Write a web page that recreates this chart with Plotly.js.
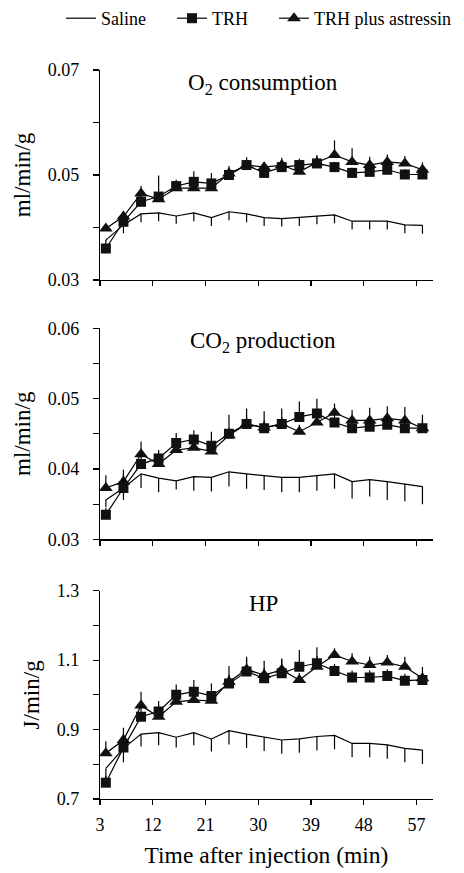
<!DOCTYPE html>
<html>
<head>
<meta charset="utf-8">
<script src="https://cdn.plot.ly/plotly-3.0.1.min.js"></script>
<style>html,body{margin:0;padding:0;background:#fff;}#chart{width:464px;height:873px;}</style>
</head>
<body>
<div id="chart"></div>
<script>
const time = [4,7,10,13,16,19,22,25,28,31,34,37,40,43,46,49,52,55,58];
const xTicks = [3,12,21,30,39,48,57];
const seriesNames = ['Saline','TRH','TRH plus astressin'];
const panelTitles = ['O<sub>2</sub> consumption','CO<sub>2</sub> production','HP'];
const yTitles = ['ml/min/g','ml/min/g','J/min/g'];

// O2 consumption
const o2Saline = [0.0376,0.0405,0.0426,0.0428,0.0422,0.0428,0.0419,0.0430,0.0426,0.0419,0.0417,0.0419,0.0422,0.0424,0.0412,0.0412,0.0412,0.0405,0.0404];
const o2SalineErr = [0.0012,0.0016,0.0016,0.0016,0.0015,0.0016,0.0016,0.0016,0.0016,0.0016,0.0015,0.0016,0.0016,0.0016,0.0016,0.0016,0.0016,0.0016,0.0016];
const o2Trh = [0.0360,0.0411,0.0449,0.0459,0.0479,0.0487,0.0484,0.0500,0.0519,0.0504,0.0515,0.0519,0.0522,0.0515,0.0504,0.0506,0.0510,0.0501,0.0501];
const o2TrhErr = [0.0008,0.0010,0.0012,0.0040,0.0012,0.0020,0.0020,0.0010,0.0012,0.0010,0.0010,0.0012,0.0012,0.0010,0.0010,0.0010,0.0010,0.0010,0.0010];
const o2Ast = [0.0398,0.0421,0.0465,0.0454,0.0475,0.0475,0.0475,0.0503,0.0519,0.0515,0.0519,0.0506,0.0524,0.0538,0.0525,0.0519,0.0525,0.0522,0.0510];
const o2AstErr = [0.0008,0.0010,0.0014,0.0010,0.0010,0.0010,0.0010,0.0014,0.0015,0.0010,0.0014,0.0010,0.0014,0.0028,0.0026,0.0016,0.0014,0.0014,0.0014];

// CO2 production
const co2Saline = [0.0356,0.0373,0.0393,0.0387,0.0383,0.0389,0.0388,0.0396,0.0393,0.0391,0.0388,0.0388,0.0390,0.0393,0.0382,0.0385,0.0382,0.0379,0.0375];
const co2SalineErr = [0.0010,0.0017,0.0020,0.0020,0.0012,0.0020,0.0020,0.0021,0.0021,0.0021,0.0021,0.0021,0.0021,0.0021,0.0024,0.0024,0.0026,0.0025,0.0025];
const co2Trh = [0.0335,0.0373,0.0407,0.0415,0.0437,0.0442,0.0433,0.0450,0.0464,0.0458,0.0464,0.0474,0.0479,0.0466,0.0458,0.0460,0.0463,0.0458,0.0458];
const co2TrhErr = [0.0010,0.0026,0.0015,0.0012,0.0014,0.0013,0.0020,0.0027,0.0022,0.0024,0.0022,0.0022,0.0021,0.0012,0.0012,0.0012,0.0012,0.0012,0.0019];
const co2Ast = [0.0373,0.0382,0.0421,0.0407,0.0427,0.0430,0.0425,0.0448,0.0464,0.0459,0.0464,0.0453,0.0466,0.0480,0.0469,0.0469,0.0472,0.0469,0.0458];
const co2AstErr = [0.0018,0.0012,0.0018,0.0014,0.0010,0.0010,0.0010,0.0010,0.0012,0.0010,0.0010,0.0010,0.0010,0.0013,0.0015,0.0018,0.0017,0.0019,0.0012];

// Heat production
const hpSaline = [0.788,0.846,0.887,0.891,0.878,0.891,0.873,0.897,0.887,0.878,0.870,0.873,0.880,0.883,0.860,0.860,0.856,0.846,0.841];
const hpSalineErr = [0.030,0.040,0.036,0.036,0.030,0.036,0.036,0.040,0.040,0.040,0.040,0.040,0.040,0.040,0.040,0.040,0.040,0.040,0.040];
const hpTrh = [0.747,0.848,0.937,0.952,1.000,1.009,0.997,1.033,1.067,1.048,1.062,1.081,1.091,1.069,1.050,1.050,1.054,1.041,1.043];
const hpTrhErr = [0.020,0.040,0.030,0.030,0.030,0.034,0.036,0.050,0.043,0.050,0.043,0.048,0.046,0.020,0.020,0.020,0.020,0.020,0.020];
const hpAst = [0.832,0.870,0.969,0.937,0.980,0.985,0.983,1.038,1.073,1.057,1.072,1.043,1.081,1.115,1.096,1.086,1.093,1.081,1.048];
const hpAstErr = [0.034,0.035,0.040,0.020,0.020,0.020,0.020,0.020,0.030,0.020,0.030,0.020,0.030,0.019,0.024,0.024,0.022,0.029,0.032];

const panels = [
  {s:o2Saline, se:o2SalineErr, t:o2Trh, te:o2TrhErr, a:o2Ast, ae:o2AstErr, range:[0.03,0.07], dtick:0.02, minor:0.01, fmt:'.2f', dom:[0.7119,1.0]},
  {s:co2Saline, se:co2SalineErr, t:co2Trh, te:co2TrhErr, a:co2Ast, ae:co2AstErr, range:[0.03,0.06], dtick:0.01, minor:0.005, fmt:'.2f', dom:[0.3562,0.6457]},
  {s:hpSaline, se:hpSalineErr, t:hpTrh, te:hpTrhErr, a:hpAst, ae:hpAstErr, range:[0.7,1.3], dtick:0.2, minor:0.1, fmt:'.1f', dom:[0,0.2857]}
];

const FONT = "'Liberation Serif', 'Times New Roman', serif";
const legendBase = {orientation:'h', xref:'container', yref:'container', y:1, xanchor:'left', yanchor:'top',
  font:{family:FONT, size:18, color:'#000'}, itemwidth:30, bgcolor:'rgba(0,0,0,0)', borderwidth:0};
const data = [];
const layout = {
  width:464, height:873,
  margin:{l:100, r:31, t:70, b:74, autoexpand:false},
  paper_bgcolor:'#fff', plot_bgcolor:'#fff',
  font:{family:FONT, color:'#000', size:18},
  showlegend:true,
  legend:Object.assign({}, legendBase, {x:61/464}),
  legend2:Object.assign({}, legendBase, {x:172/464}),
  legend3:Object.assign({}, legendBase, {x:274/464}),
  annotations:[]
};

panels.forEach((p,i)=>{
  const n = i+1;
  const xa = 'x'+(n===1?'':n), ya = 'y'+(n===1?'':n);
  const zeros = time.map(()=>0);
  data.push({x:time, y:p.s, xaxis:xa, yaxis:ya, type:'scatter', mode:'lines', name:seriesNames[0],
    showlegend:i===0, legend:'legend',
    line:{color:'#000', width:1.2},
    error_y:{type:'data', symmetric:false, array:zeros, arrayminus:p.se, width:0, thickness:1.2, color:'#000'}});
  data.push({x:time, y:p.a, xaxis:xa, yaxis:ya, type:'scatter', mode:'lines+markers', name:seriesNames[2],
    showlegend:i===0, legend:'legend3',
    line:{color:'#000', width:1.2}, marker:{symbol:'triangle-up', size:12, color:'#111'},
    error_y:{type:'data', symmetric:false, array:p.ae, arrayminus:zeros, width:0, thickness:1.2, color:'#000'}});
  data.push({x:time, y:p.t, xaxis:xa, yaxis:ya, type:'scatter', mode:'lines+markers', name:seriesNames[1],
    showlegend:i===0, legend:'legend2',
    line:{color:'#000', width:1.2}, marker:{symbol:'square', size:10, color:'#111'},
    error_y:{type:'data', symmetric:false, array:p.te, arrayminus:zeros, width:0, thickness:1.2, color:'#000'}});
  const xaxis = {
    anchor:ya, domain:[0,1], range:[3,59.8], tickvals:xTicks, ticktext:xTicks.map(String),
    showticklabels:n===3, ticks:'outside', ticklen:5, tickwidth:1.2, tickcolor:'#000',
    showline:true, linecolor:'#000', linewidth:1.2, showgrid:false, zeroline:false,
    tickfont:{family:FONT, size:18, color:'#000'}, ticklabelstandoff:4
  };
  if(n===3) xaxis.title = {text:'Time after injection (min)', font:{family:FONT, size:23.5, color:'#000'}, standoff:12};
  layout['xaxis'+(n===1?'':n)] = xaxis;
  layout['yaxis'+(n===1?'':n)] = {
    anchor:xa, domain:p.dom, range:p.range, dtick:p.dtick, tick0:p.range[0], tickformat:p.fmt,
    ticks:'outside', ticklen:6, tickwidth:1.2, tickcolor:'#000',
    minor:{dtick:p.minor, tick0:p.range[0], ticks:'outside', ticklen:6, tickwidth:1.2, tickcolor:'#000', showgrid:false},
    showline:true, linecolor:'#000', linewidth:1.2, showgrid:false, zeroline:false,
    tickfont:{family:FONT, size:18, color:'#000'}, ticklabelstandoff:10,
    title:{text:yTitles[i], font:{family:FONT, size:23, color:'#000'}, standoff:10}
  };
  layout.annotations.push({text:panelTitles[i], xref:xa+' domain', yref:ya+' domain', x:0.49, y:1.01,
    xanchor:'center', yanchor:'top', showarrow:false, font:{family:FONT, size:23, color:'#000'}});
});

Plotly.newPlot('chart', data, layout, {displayModeBar:false, staticPlot:true});
</script>
</body>
</html>
